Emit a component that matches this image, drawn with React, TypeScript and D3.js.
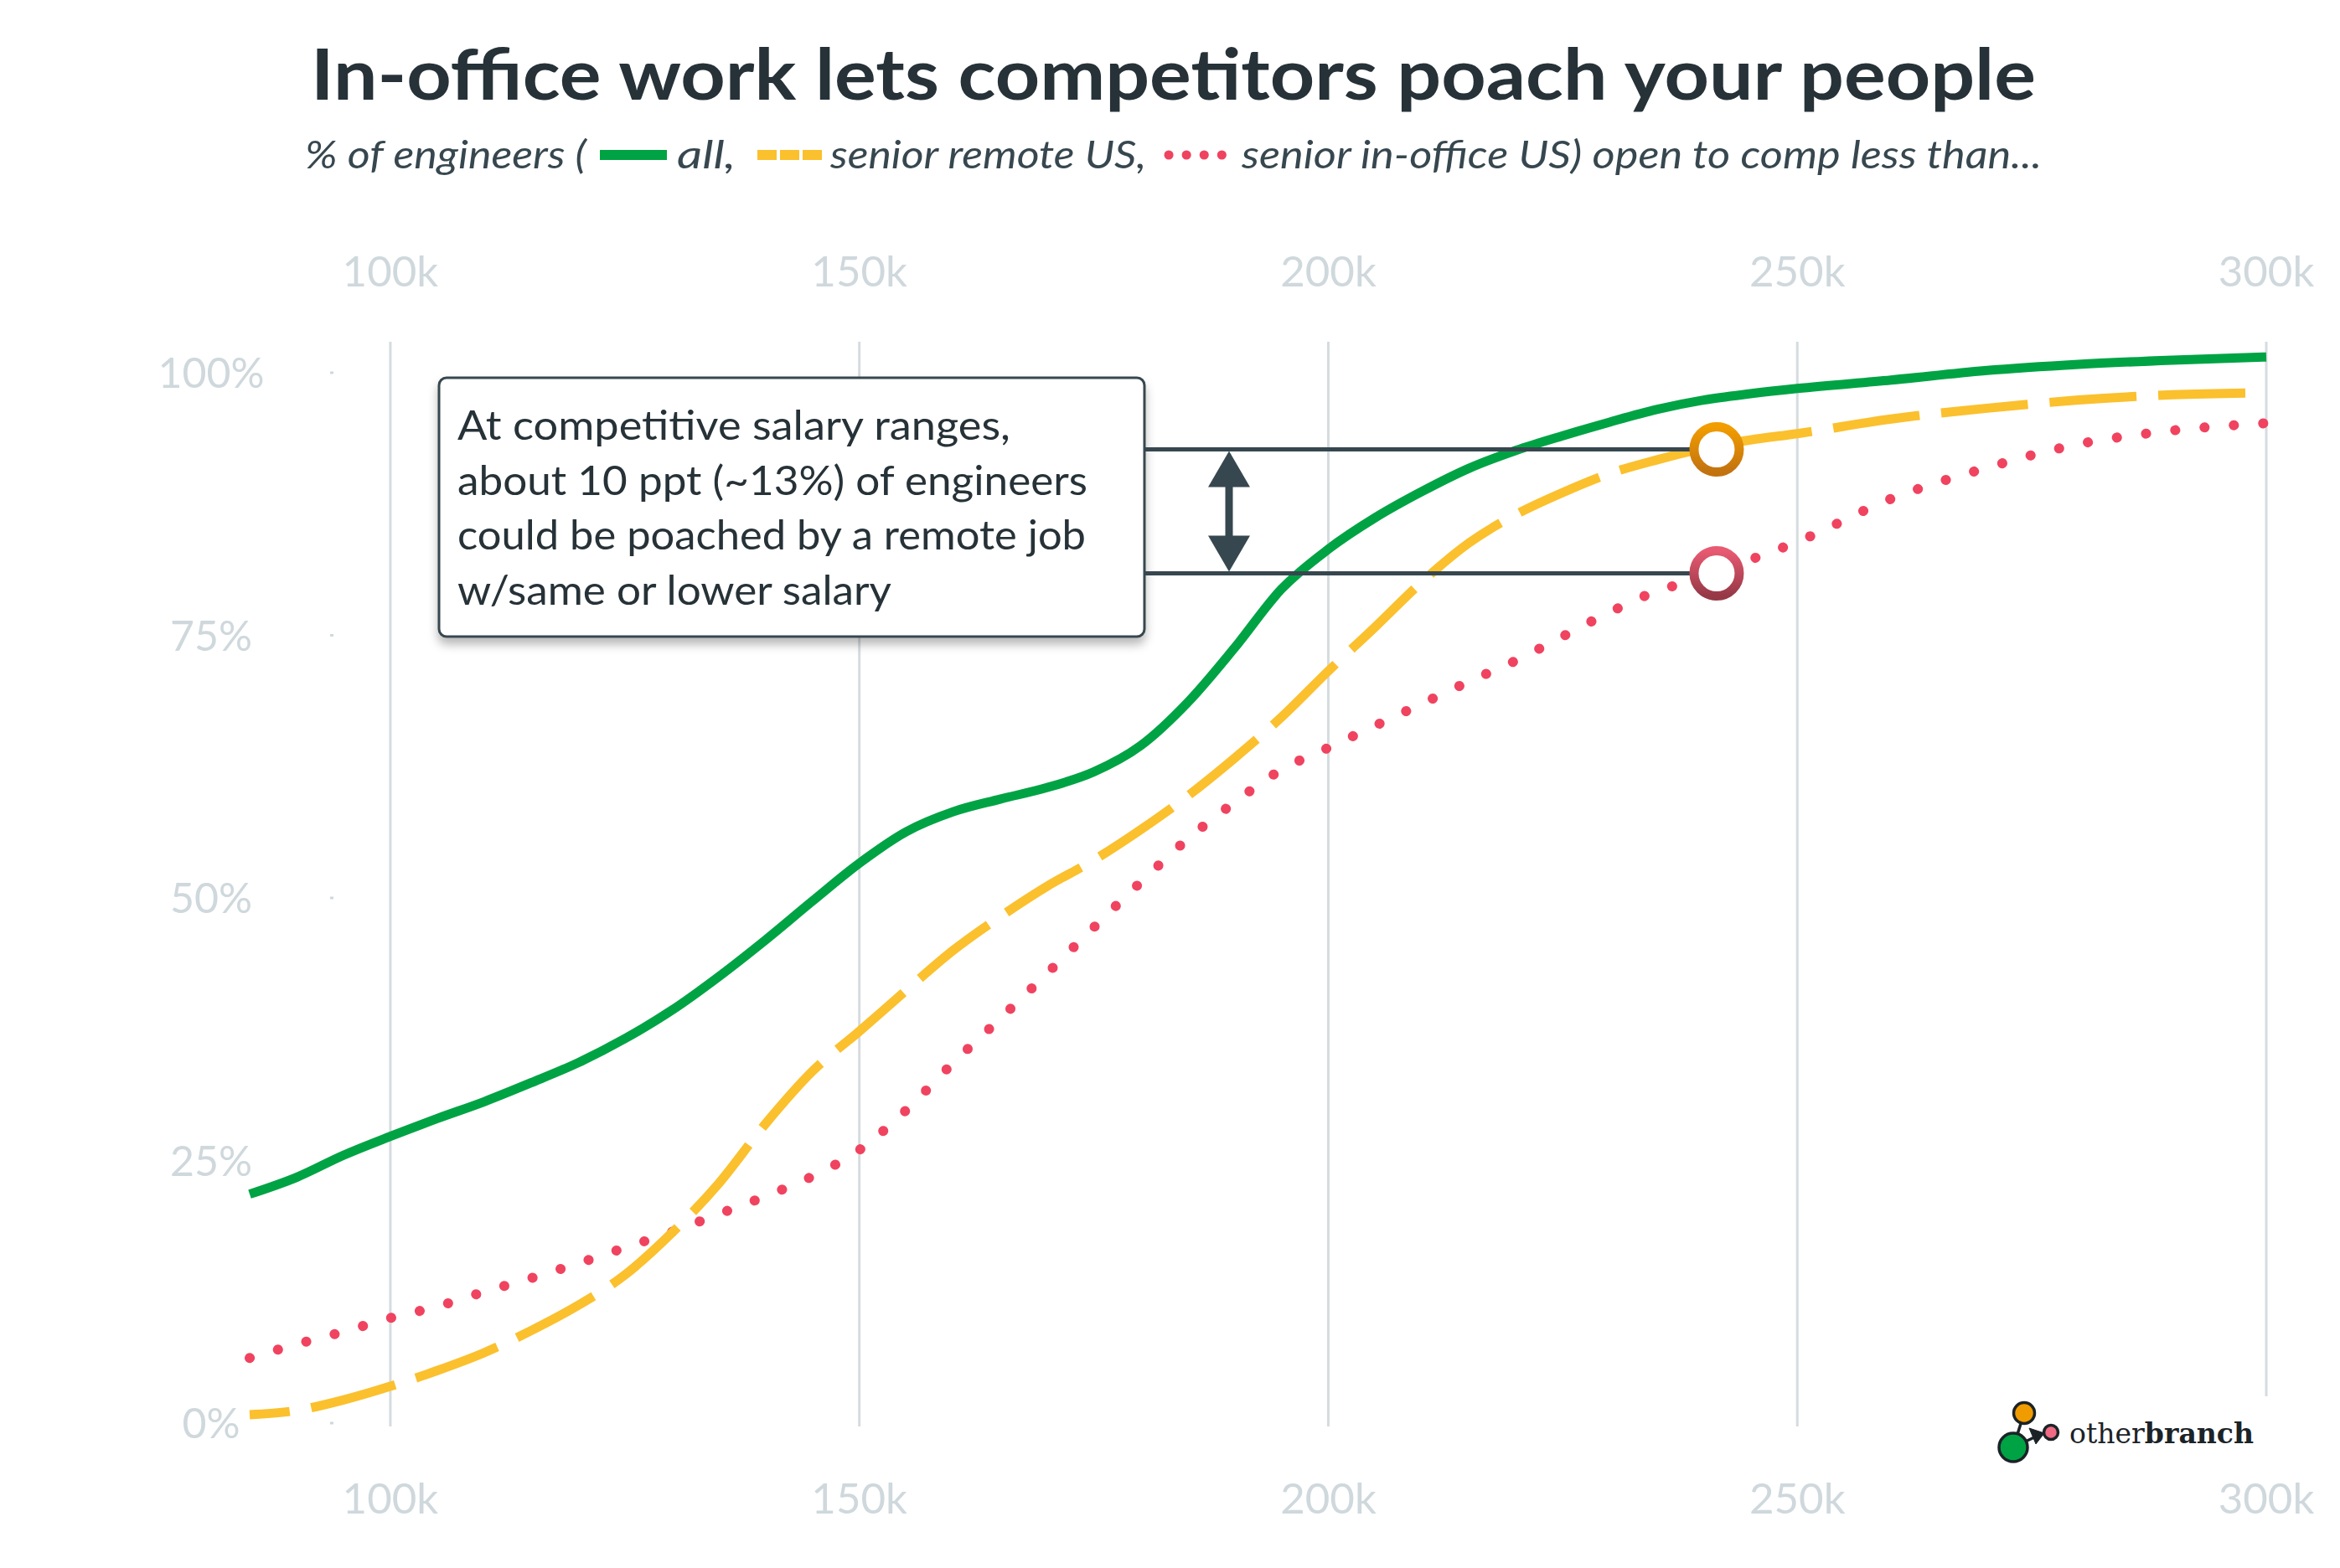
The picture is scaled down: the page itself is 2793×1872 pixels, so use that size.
import React from 'react';
import * as d3 from 'd3';

// salary in thousands USD
const salaries = [85, 90, 95, 100, 105, 110, 115, 120, 125, 130, 135, 140, 145, 150, 155, 160, 165, 170, 175, 180, 185, 190, 195, 200, 205, 210, 215, 220, 225, 230, 235, 240, 245, 250, 260, 270, 280, 290, 300];
// % open to comp less than salary
const allEngineers = [21.8, 23.4, 25.5, 27.3, 29.0, 30.6, 32.4, 34.3, 36.6, 39.3, 42.5, 46.0, 49.7, 53.3, 56.3, 58.2, 59.4, 60.5, 62.0, 64.5, 68.6, 73.8, 79.4, 83.2, 86.2, 88.7, 90.9, 92.6, 94.0, 95.3, 96.5, 97.4, 98.0, 98.5, 99.3, 100.2, 100.8, 101.2, 101.5];
const seniorRemoteUS = [0.8, 1.2, 2.2, 3.5, 5.0, 6.7, 8.8, 11.2, 14.1, 18.1, 22.8, 28.5, 33.5, 37.3, 41.2, 45.0, 48.2, 51.1, 53.6, 56.5, 59.7, 63.3, 67.2, 71.6, 75.8, 80.1, 83.8, 86.5, 88.6, 90.4, 91.7, 92.8, 93.6, 94.2, 95.6, 96.6, 97.4, 97.9, 98.1];
const seniorInOfficeUS = [6.2, 7.5, 8.7, 10.0, 11.1, 12.5, 13.8, 15.2, 16.7, 18.2, 19.9, 21.6, 23.5, 26.0, 29.8, 34.3, 38.5, 42.8, 47.2, 51.5, 55.6, 59.1, 62.2, 64.3, 66.4, 68.5, 70.6, 72.6, 74.9, 77.2, 79.2, 80.5, 82.2, 83.9, 88.0, 90.9, 93.2, 94.5, 95.2];

const xTicks = [100, 150, 200, 250, 300];
const yTicks = [0, 25, 50, 75, 100];

const annotSalary = 241.4;
const annotRemote = 92.7;
const annotOffice = 80.9;
const noteLines = [
  'At competitive salary ranges,',
  'about 10 ppt (~13%) of engineers',
  'could be poached by a remote job',
  'w/same or lower salary',
];
const noteWidths = [660, 752, 750, 518];

const GREEN = '#00a344';
const YELLOW = '#fbc02d';
const PINK = '#f0435f';
const SLATE = '#37474f';
const AXIS = '#cfd8dc';
const FONT = 'Lato, "Open Sans", sans-serif';

export default function App() {
  const W = 2793;
  const H = 1872;
  const x = d3.scaleLinear().domain([85, 300]).range([298, 2705]);
  const y = d3.scaleLinear().domain([0, 100]).range([1699, 445]);

  const line = (vals: number[]) =>
    d3
      .line<number>()
      .x((_, i) => x(salaries[i]))
      .y(d => y(d))
      .curve(d3.curveMonotoneX)(vals) as string;

  const ax = x(annotSalary);
  const yR = y(annotRemote);
  const yO = y(annotOffice);
  const arrowX = 1467;

  return (
    <svg width={W} height={H} viewBox={`0 0 ${W} ${H}`} style={{ display: 'block' }}>
      <style>{`body{margin:0}`}</style>
      <defs>
        <filter id="shadow" x="-10%" y="-10%" width="120%" height="130%">
          <feDropShadow dx="0" dy="8" stdDeviation="6" floodColor="#000" floodOpacity="0.28" />
        </filter>
        <linearGradient id="gOrange" x1="0" y1="0" x2="0" y2="1">
          <stop offset="0" stopColor="#f29d00" />
          <stop offset="1" stopColor="#c2720f" />
        </linearGradient>
        <linearGradient id="gPink" x1="0" y1="0" x2="0" y2="1">
          <stop offset="0" stopColor="#e85a72" />
          <stop offset="1" stopColor="#963846" />
        </linearGradient>
      </defs>
      <rect width={W} height={H} fill="#fff" />

      {/* title */}
      <text x={371} y={119} fontFamily={FONT} fontWeight={700} fontSize={84} fill="#263238" textLength={2059} lengthAdjust="spacingAndGlyphs">
        In-office work lets competitors poach your people
      </text>

      {/* subtitle with inline legend */}
      <g fontFamily={FONT} fontStyle="italic" fontSize={46} fill={SLATE}>
        <text x={364} y={201} textLength={336} lengthAdjust="spacingAndGlyphs">% of engineers (</text>
        <line x1={716} x2={796} y1={185} y2={185} stroke={GREEN} strokeWidth={12} />
        <text x={808} y={201} textLength={70} lengthAdjust="spacingAndGlyphs">all,</text>
        <line x1={904} x2={981} y1={185} y2={185} stroke={YELLOW} strokeWidth={12} strokeDasharray="23 4" />
        <text x={991} y={201} textLength={377} lengthAdjust="spacingAndGlyphs">senior remote US,</text>
        <line x1={1395} x2={1468} y1={185} y2={185} stroke={PINK} strokeWidth={11} strokeLinecap="round" strokeDasharray="0.1 21" />
        <text x={1482} y={201} textLength={955} lengthAdjust="spacingAndGlyphs">senior in-office US) open to comp less than...</text>
      </g>

      {/* grid */}
      {xTicks.map(t => (
        <line key={t} x1={x(t)} x2={x(t)} y1={408} y2={1703} stroke="#d5dcdf" strokeWidth={3} />
      ))}
      {yTicks.map(t => (
        <g key={t}>
          <line x1={394} x2={398} y1={y(t)} y2={y(t)} stroke={AXIS} strokeWidth={3} />
          <text x={252} y={y(t)} dy="0.36em" textAnchor="middle" fontFamily={FONT} fontSize={50} fill={AXIS}>
            {t}%
          </text>
        </g>
      ))}
      {xTicks.map(t => (
        <g key={'l' + t} fontFamily={FONT} fontSize={51} fill={AXIS} textAnchor="middle">
          <text x={x(t)} y={342}>{t}k</text>
          <text x={x(t)} y={1807}>{t}k</text>
        </g>
      ))}

      {/* series */}
      <path d={line(seniorInOfficeUS)} fill="none" stroke={PINK} strokeWidth={12} strokeLinecap="round" strokeDasharray="0.1 35" />
      <path d={line(seniorRemoteUS)} fill="none" stroke={YELLOW} strokeWidth={11} strokeDasharray="104 26" strokeDashoffset={56} />
      <path d={line(allEngineers)} fill="none" stroke={GREEN} strokeWidth={11} />

      {/* annotation */}
      <rect x={524} y={451} width={842} height={309} rx={9} fill="#fff" stroke={SLATE} strokeWidth={3} filter="url(#shadow)" />
      <g fontFamily={FONT} fontSize={49} fill="#263238">
        {noteLines.map((s, i) => (
          <text key={i} x={546} y={525 + i * 65.5} textLength={noteWidths[i]} lengthAdjust="spacingAndGlyphs">{s}</text>
        ))}
      </g>
      <line x1={1366} x2={ax} y1={yR} y2={yR} stroke={SLATE} strokeWidth={5} />
      <line x1={1366} x2={ax} y1={yO} y2={yO} stroke={SLATE} strokeWidth={5} />
      <line x1={arrowX} x2={arrowX} y1={yR + 30} y2={yO - 30} stroke={SLATE} strokeWidth={9} />
      <path d={`M${arrowX},${yR + 2} L${arrowX + 25},${yR + 45} L${arrowX - 25},${yR + 45} Z`} fill={SLATE} />
      <path d={`M${arrowX},${yO - 2} L${arrowX + 25},${yO - 45} L${arrowX - 25},${yO - 45} Z`} fill={SLATE} />
      <circle cx={ax} cy={yR} r={27} fill="#fff" stroke="url(#gOrange)" strokeWidth={11} />
      <circle cx={ax} cy={yO} r={27} fill="#fff" stroke="url(#gPink)" strokeWidth={11} />

      {/* logo */}
      <rect x={2380} y={1667} width={345} height={85} fill="#fff" />
      <g stroke="#1b2327" strokeWidth={3.5}>
        <line x1={2403} y1={1728} x2={2416} y2={1687} />
        <line x1={2403} y1={1728} x2={2428} y2={1716} />
        <path d={`M2440,1711 L2422,1705 L2430,1724 Z`} fill="#1b2327" strokeWidth={1} />
        <circle cx={2416} cy={1687} r={12.5} fill="#f09c00" />
        <circle cx={2403} cy={1728} r={17} fill="#00a344" />
        <circle cx={2448} cy={1710} r={8.5} fill="#f06a84" />
      </g>
      <text x={2470} y={1723} fontFamily='"DejaVu Serif", serif' fontSize={34} fill="#1b2327" textLength={220} lengthAdjust="spacingAndGlyphs">
        other<tspan fontWeight={700}>branch</tspan>
      </text>
    </svg>
  );
}
